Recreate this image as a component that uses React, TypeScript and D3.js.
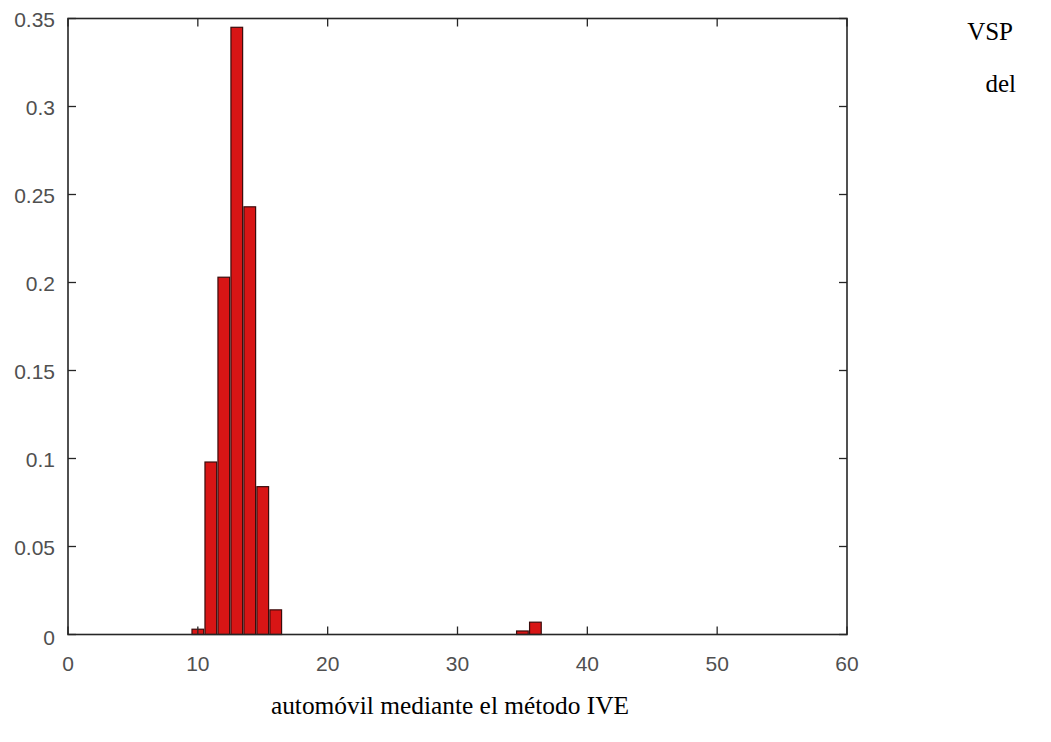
import React from 'react';
import * as d3 from 'd3';

// Histogram bins (bin centre, relative frequency)
const binCenters = [10, 11, 12, 13, 14, 15, 16, 35, 36];
const binValues = [0.003, 0.098, 0.203, 0.345, 0.243, 0.084, 0.014, 0.002, 0.007];

const xTicks = [0, 10, 20, 30, 40, 50, 60];
const yTicks = [0, 0.05, 0.1, 0.15, 0.2, 0.25, 0.3, 0.35];
const yTickLabels = ['0', '0.05', '0.1', '0.15', '0.2', '0.25', '0.3', '0.35'];

const sideLines = ['VSP', 'del'];
const caption = 'automóvil mediante el método IVE';

const W = 1051;
const H = 742;
const plot = { left: 68, right: 847, top: 18.5, bottom: 634.5 };
const binWidth = 0.9;
const tickLen = 8;

export default function App() {
  const x = d3.scaleLinear().domain([0, 60]).range([plot.left, plot.right]);
  const y = d3.scaleLinear().domain([0, 0.35]).range([plot.bottom, plot.top]);

  const axisColor = '#262626';
  const labelColor = '#505050';
  const tickFont = '"Liberation Sans", Arial, Helvetica, sans-serif';
  const serif = '"Liberation Serif", "Times New Roman", serif';

  return (
    <svg
      width={W}
      height={H}
      viewBox={`0 0 ${W} ${H}`}
      style={{ position: 'absolute', left: 0, top: 0, background: '#fff' }}
    >
      <rect x={0} y={0} width={W} height={H} fill="#fff" />

      {/* bars */}
      {binCenters.map((c, i) => {
        const x0 = x(c - binWidth / 2);
        const x1 = x(c + binWidth / 2);
        const yt = y(binValues[i]);
        return (
          <rect
            key={c}
            x={x0}
            y={yt}
            width={x1 - x0}
            height={y(0) - yt}
            fill="#d81515"
            stroke="#3a0c0c"
            strokeWidth={1.2}
          />
        );
      })}

      {/* axes box */}
      <rect
        x={plot.left}
        y={plot.top}
        width={plot.right - plot.left}
        height={plot.bottom - plot.top}
        fill="none"
        stroke={axisColor}
        strokeWidth={1.6}
      />

      {/* x ticks, bottom and top, pointing inwards */}
      {xTicks.map((t) => (
        <g key={`xt${t}`}>
          <line x1={x(t)} x2={x(t)} y1={plot.bottom} y2={plot.bottom - tickLen} stroke={axisColor} strokeWidth={1.3} />
          <line x1={x(t)} x2={x(t)} y1={plot.top} y2={plot.top + tickLen} stroke={axisColor} strokeWidth={1.3} />
          <text
            x={x(t)}
            y={663}
            textAnchor="middle"
            dominantBaseline="central"
            fontFamily={tickFont}
            fontSize={21}
            fill={labelColor}
          >
            {t}
          </text>
        </g>
      ))}

      {/* y ticks, left and right, pointing inwards */}
      {yTicks.map((t, i) => (
        <g key={`yt${t}`}>
          <line x1={plot.left} x2={plot.left + tickLen} y1={y(t)} y2={y(t)} stroke={axisColor} strokeWidth={1.3} />
          <line x1={plot.right} x2={plot.right - tickLen} y1={y(t)} y2={y(t)} stroke={axisColor} strokeWidth={1.3} />
          <text
            x={55}
            y={y(t) + (t === 0 ? 3 : 1)}
            textAnchor="end"
            dominantBaseline="central"
            fontFamily={tickFont}
            fontSize={21}
            fill={labelColor}
          >
            {yTickLabels[i]}
          </text>
        </g>
      ))}

      {/* surrounding document text */}
      <text x={1013} y={40} textAnchor="end" fontFamily={serif} fontSize={25} fill="#000">
        {sideLines[0]}
      </text>
      <text x={1016} y={92} textAnchor="end" fontFamily={serif} fontSize={25} fill="#000">
        {sideLines[1]}
      </text>
      <text x={450} y={714} textAnchor="middle" fontFamily={serif} fontSize={25.4} fill="#000">
        {caption}
      </text>
    </svg>
  );
}
